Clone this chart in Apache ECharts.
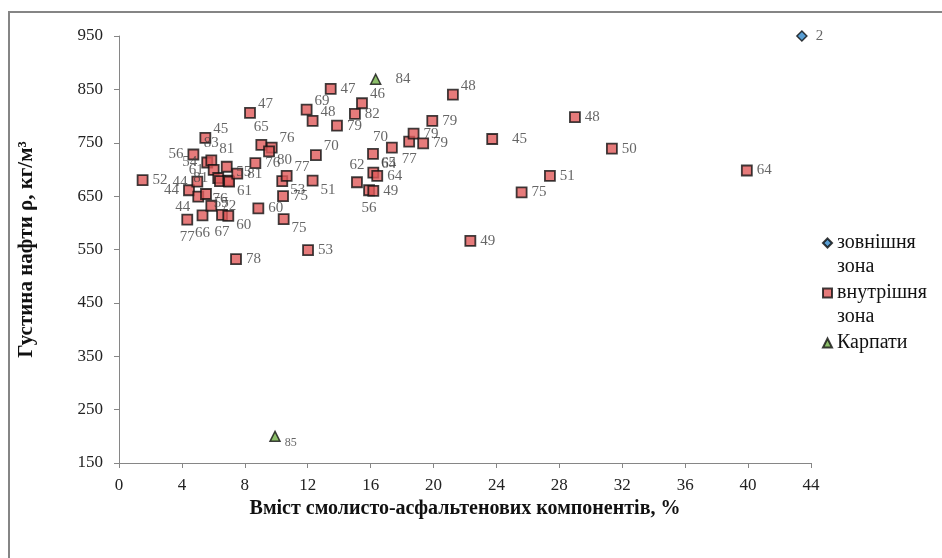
<!DOCTYPE html>
<html>
<head>
<meta charset="utf-8">
<script src="https://cdn.jsdelivr.net/npm/echarts@6/dist/echarts.min.js"></script>
<style>
  * { margin: 0; padding: 0; }
  body { background: #fff; }
</style>
</head>
<body>
<div id="chartId" style="width:942px;height:558px;"></div>
<script>
// зовнішня зона
const xOuter = [43.42];
const yOuter = [950];
const labOuter = ["2"];

// внутрішня зона
const xInner = [1.5, 4.34, 4.45, 4.73, 4.98, 5.04, 5.31, 5.49, 5.53, 5.61,
  5.87, 5.87, 6.02, 6.31, 6.42, 6.55, 6.85, 6.95, 7.0, 6.95,
  7.44, 7.52, 8.33, 8.67, 8.86, 9.05, 9.71, 9.54, 10.38, 10.66,
  10.43, 10.47, 11.93, 12.02, 12.31, 12.31, 12.52, 13.46, 13.86, 15.0,
  15.13, 15.45, 15.9, 16.15, 16.17, 16.17, 16.42, 17.35, 18.45, 18.73,
  19.34, 19.92, 21.23, 22.34, 23.73, 25.6, 27.4, 28.99, 31.34, 39.92];
const yInner = [680, 606, 661, 728, 677, 649, 614, 759, 654, 713,
  717, 632, 699, 684, 678, 615, 705, 679, 677, 613,
  532, 692, 806, 712, 627, 746, 741, 734, 678, 688,
  650, 607, 812, 549, 791, 679, 727, 851, 782, 804,
  676, 824, 661, 729, 694, 660, 688, 741, 752, 767,
  749, 791, 840, 566, 757, 657, 688, 798, 739, 698];
const labInner = ["52", "77", "44", "56", "44", "44", "66", "45", "55", "54",
  "83", "72", "61", "81", "76", "67", "81", "55", "61", "60",
  "78", "81", "47", "76", "60", "65", "76", "80", "53", "77",
  "75", "75", "69", "53", "48", "51", "70", "47", "79", "82",
  "62", "46", "56", "65", "64", "49", "64", "70", "77", "79",
  "79", "79", "48", "49", "45", "75", "51", "48", "50", "64"];

// Карпати
const xCarp = [16.32, 9.92];
const yCarp = [869, 200];
const labCarp = ["84", "85"];

// де стоїть підпис біля точки
const placeInner = ["r", "b", "l", "l", "l", "bl", "b", "tr", "br", "l",
  "t", "r", "l", "l", "b", "b", "t", "tr", "br", "br",
  "r", "r", "tr", "r", "r", "t", "tr", "br", "br", "tr",
  "r", "br", "tr", "r", "tr", "br", "tr", "r", "r", "r",
  "t", "tr", "b", "br", "tr", "r", "r", "tl", "b", "r",
  "r", "r", "tr", "r", "r2", "r", "r", "r", "r", "r"];
const placeCarp = ["r2", "small"];

const serif = "Liberation Serif";

function labelFor(p) {
  switch (p) {
    case "l": return { position: "left" };
    case "t": return { position: "top" };
    case "b": return { position: "bottom" };
    case "tr": return { position: "right", offset: [-2, -9] };
    case "br": return { position: "right", offset: [-2, 9] };
    case "bl": return { position: "left", offset: [2, 10] };
    case "tl": return { position: "left", offset: [6, -10] };
    case "r2": return { position: "right", offset: [10, 0] };
    case "small": return { position: "right", offset: [0, 7], fontSize: 12 };
    default: return { position: "right" };
  }
}

function build(xs, ys, labs, places) {
  return xs.map((x, i) => {
    const item = { value: [x, ys[i], labs[i]] };
    if (places && places[i]) item.label = labelFor(places[i]);
    return item;
  });
}

const chart = echarts.init(document.getElementById("chartId"));

const pointLabel = {
  show: true,
  position: "right",
  distance: 4,
  fontFamily: serif,
  fontSize: 15,
  color: "#404040",
  formatter: (p) => p.value[2],
};

const option = {
  backgroundColor: "#fff",
  animation: false,
  graphic: [
    {
      type: "rect",
      shape: { x: 9, y: 12, width: 960, height: 580 },
      style: { fill: "none", stroke: "#858585", lineWidth: 2 },
      z: -1,
    },
  ],
  grid: { left: 119, top: 36, width: 692, height: 427 },
  legend: {
    orient: "vertical",
    left: 822,
    top: 207,
    padding: 0,
    itemWidth: 9,
    itemHeight: 9,
    itemGap: -22,
    itemTextGap: 7,
    data: ["зовнішня зона", "внутрішня зона", "Карпати"],
    // порожній рядок зверху, щоб значок стояв біля першого рядка
    formatter: (name) => "\n" + name.replace(" ", "\n") + (name.indexOf(" ") < 0 ? "\n " : ""),
    textStyle: { fontFamily: serif, fontSize: 20, color: "#111", lineHeight: 24 },
  },
  xAxis: {
    type: "value",
    min: 0,
    max: 44,
    interval: 4,
    name: "Вміст смолисто-асфальтенових компонентів, %",
    nameLocation: "middle",
    nameGap: 36,
    nameTextStyle: { fontFamily: serif, fontSize: 20, fontWeight: "bold", color: "#111" },
    splitLine: { show: false },
    axisLine: { show: true, lineStyle: { color: "#868686", width: 1 } },
    axisTick: { show: true, length: 5, lineStyle: { color: "#868686" } },
    axisLabel: { fontFamily: serif, fontSize: 17, color: "#222", margin: 14 },
  },
  yAxis: {
    type: "value",
    min: 150,
    max: 950,
    interval: 100,
    name: "Густина нафти ρ, кг/м³",
    nameLocation: "middle",
    nameGap: 82,
    nameTextStyle: { fontFamily: serif, fontSize: 21, fontWeight: "bold", color: "#111" },
    splitLine: { show: false },
    axisLine: { show: true, lineStyle: { color: "#868686", width: 1 } },
    axisTick: { show: true, length: 5, lineStyle: { color: "#868686" } },
    axisLabel: { fontFamily: serif, fontSize: 17, color: "#222", margin: 16 },
  },
  series: [
    {
      name: "зовнішня зона",
      type: "scatter",
      symbol: "diamond",
      symbolSize: 10,
      itemStyle: { color: "#2F86C8", borderColor: "#0a0a0a", borderWidth: 1.5 },
      label: Object.assign({}, pointLabel, { distance: 8 }),
      data: build(xOuter, yOuter, labOuter),
    },
    {
      name: "внутрішня зона",
      type: "scatter",
      symbol: "rect",
      symbolSize: 10,
      itemStyle: { color: "#E05A5A", borderColor: "#111", borderWidth: 1.8 },
      label: pointLabel,
      data: build(xInner, yInner, labInner, placeInner),
    },
    {
      name: "Карпати",
      type: "scatter",
      symbol: "triangle",
      symbolSize: 10,
      itemStyle: { color: "#6FAE45", borderColor: "#111", borderWidth: 1.5 },
      label: pointLabel,
      data: build(xCarp, yCarp, labCarp, placeCarp),
    },
  ],
};

chart.setOption(option);
</script>
</body>
</html>
